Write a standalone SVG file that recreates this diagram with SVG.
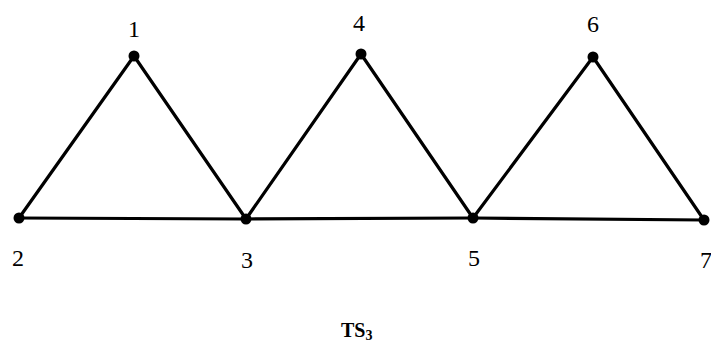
<svg xmlns="http://www.w3.org/2000/svg" width="711" height="352" viewBox="0 0 711 352">
<style>
.e{stroke:#000;stroke-width:3.2;fill:none;stroke-linecap:round}
.n{fill:#000}
.l{font-family:"Liberation Serif","Times New Roman",serif;font-size:24px;fill:#000;text-anchor:middle}
.t{font-family:"Liberation Serif","Times New Roman",serif;font-size:20px;font-weight:bold;fill:#000}
</style>
<rect width="711" height="352" fill="#fff"/>
<g id="edges">
<line class="e" x1="19" y1="218" x2="134" y2="56"/>
<line class="e" x1="134" y1="56" x2="246" y2="219"/>
<line class="e" x1="19" y1="218" x2="246" y2="219"/>
<line class="e" x1="246" y1="219" x2="361" y2="54"/>
<line class="e" x1="361" y1="54" x2="473" y2="218"/>
<line class="e" x1="246" y1="219" x2="473" y2="218"/>
<line class="e" x1="473" y1="218" x2="593" y2="57"/>
<line class="e" x1="593" y1="57" x2="704" y2="220"/>
<line class="e" x1="473" y1="218" x2="704" y2="220"/>
</g>
<g id="n1"><circle class="n" cx="134" cy="56" r="5.5"/><text class="l" x="134" y="37">1</text></g>
<g id="n2"><circle class="n" cx="19" cy="218" r="5.5"/><text class="l" x="18" y="266">2</text></g>
<g id="n3"><circle class="n" cx="246" cy="219" r="5.5"/><text class="l" x="247" y="268">3</text></g>
<g id="n4"><circle class="n" cx="361" cy="54" r="5.5"/><text class="l" x="359" y="31">4</text></g>
<g id="n5"><circle class="n" cx="473" cy="218" r="5.5"/><text class="l" x="474" y="266">5</text></g>
<g id="n6"><circle class="n" cx="593" cy="57" r="5.5"/><text class="l" x="593" y="32">6</text></g>
<g id="n7"><circle class="n" cx="704" cy="220" r="5.5"/><text class="l" x="706" y="268">7</text></g>
<text class="t" x="341" y="337">TS<tspan font-size="14" dy="3">3</tspan></text>
</svg>
